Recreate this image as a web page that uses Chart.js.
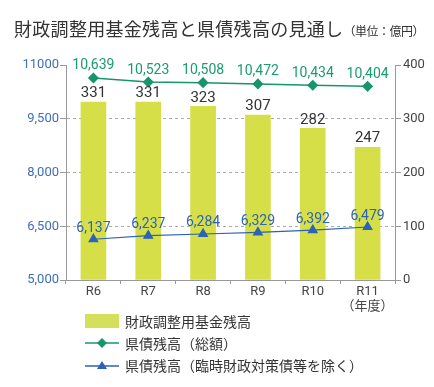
<!DOCTYPE html>
<html lang="ja">
<head>
<meta charset="utf-8">
<script src="https://cdn.jsdelivr.net/npm/chart.js@4"></script>
<style>
  body { margin: 0; background: #fff; }
  #wrap { position: relative; width: 434px; height: 387px; font-family: "Noto Sans CJK JP", sans-serif; color: #333; }
  #graficoSaldo { position: absolute; left: 0; top: 0; }
  .titulo { position: absolute; left: 14px; top: 19px; font-size: 18px; line-height: 1; letter-spacing: 0.3px; white-space: nowrap; }
  .titulo small { font-size: 12px; letter-spacing: -0.5px; }
  .legenda { position: absolute; left: 85px; font-size: 14px; line-height: 1; white-space: nowrap; display: flex; align-items: center; }
  .legenda svg { margin-right: 6px; }
</style>
</head>
<body>
<div id="wrap">
  <canvas id="graficoSaldo" width="434" height="387"></canvas>
  <div class="titulo">財政調整用基金残高と県債残高の見通し<small>（単位：億円）</small></div>
  <div class="legenda" style="top:314px">
    <svg width="34" height="14"><rect x="0" y="0" width="34" height="14" fill="#d4df5c"/></svg>財政調整用基金残高
  </div>
  <div class="legenda" style="top:336px">
    <svg width="34" height="14"><line x1="0" y1="7" x2="34" y2="7" stroke="#17966b" stroke-width="1.5"/><polygon points="17,2 22,7 17,12 12,7" fill="#17966b"/></svg>県債残高（総額）
  </div>
  <div class="legenda" style="top:358px">
    <svg width="34" height="14"><line x1="0" y1="8" x2="34" y2="8" stroke="#2c63b6" stroke-width="1.5"/><polygon points="17,3 22,11 12,11" fill="#2c63b6"/></svg>県債残高（臨時財政対策債等を除く）
  </div>
</div>
<script>
const anos = ['R6', 'R7', 'R8', 'R9', 'R10', ['R11', '（年度）']];
const saldoFundo = [331, 331, 323, 307, 282, 247];          // 財政調整用基金残高 (eixo direito)
const dividaTotal = [10639, 10523, 10508, 10472, 10434, 10404]; // 県債残高（総額）
const dividaSemTemp = [6137, 6237, 6284, 6329, 6392, 6479];  // 県債残高（臨時財政対策債等を除く）

const corVerde = '#17966b';
const corAzul = '#2c63b6';
const fonteNum = 'Roboto, "Noto Sans CJK JP", sans-serif';

// Rótulos com os valores em cima das barras e dos pontos
const rotulosValores = {
    id: 'rotulosValores',
    afterDatasetsDraw(chart) {
        const ctx = chart.ctx;
        chart.data.datasets.forEach((ds, i) => {
            const meta = chart.getDatasetMeta(i);
            ctx.save();
            ctx.textAlign = 'center';
            ctx.textBaseline = 'bottom';
            ctx.fillStyle = ds.corRotulo;
            ctx.font = ds.fonteRotulo;
            meta.data.forEach((el, j) => {
                ctx.fillText(ds.data[j].toLocaleString('en-US'), el.x, el.y - ds.afastRotulo);
            });
            ctx.restore();
        });
    }
};

new Chart(document.getElementById('graficoSaldo'), {
    type: 'bar',
    data: {
        labels: anos,
        datasets: [{
            type: 'line',
            label: '県債残高（総額）',
            data: dividaTotal,
            yAxisID: 'yEsq',
            borderColor: corVerde,
            backgroundColor: corVerde,
            borderWidth: 1.5,
            pointStyle: 'rectRot',
            pointRadius: 4.5,
            order: 1,
            corRotulo: '#1a9c72',
            fonteRotulo: '14px ' + fonteNum,
            afastRotulo: 5
        },
        {
            type: 'line',
            label: '県債残高（臨時財政対策債等を除く）',
            data: dividaSemTemp,
            yAxisID: 'yEsq',
            borderColor: corAzul,
            backgroundColor: corAzul,
            borderWidth: 1.2,
            pointStyle: 'triangle',
            pointRadius: 5,
            order: 2,
            corRotulo: '#2e63b5',
            fonteRotulo: '14px ' + fonteNum,
            afastRotulo: 4
        },
        {
            label: '財政調整用基金残高',
            data: saldoFundo,
            yAxisID: 'yDir',
            backgroundColor: '#d6df48',
            barThickness: 25,
            order: 3,
            corRotulo: '#333',
            fonteRotulo: '15px ' + fonteNum,
            afastRotulo: 1
        }]
    },
    options: {
        responsive: false,
        animation: false,
        layout: { padding: { top: 65, bottom: 72, left: 0, right: 0 } },
        plugins: {
            legend: { display: false },
            tooltip: { enabled: false }
        },
        scales: {
            x: {
                afterFit: s => { s.height = 35; },
                grid: { offset: true, drawOnChartArea: false, tickLength: 4, tickColor: '#999' },
                border: { color: '#999' },
                ticks: {
                    color: '#444', padding: 1, maxRotation: 0, minRotation: 0, autoSkip: false,
                    font: { family: fonteNum, size: 13, lineHeight: 1.1 }
                }
            },
            yEsq: {
                position: 'left',
                min: 5000,
                max: 11000,
                afterFit: s => { s.width = 66; },
                grid: {
                    color: c => (c.tick.value === 5000 || c.tick.value === 11000) ? 'rgba(0,0,0,0)' : '#aaa',
                    tickColor: '#999',
                    tickLength: 6
                },
                border: { color: '#999', dash: [3, 3] },
                ticks: {
                    stepSize: 1500,
                    padding: 1,
                    color: '#3f6fb6',
                    font: { family: fonteNum, size: 13 },
                    callback: v => v === 11000 ? '11000' : v.toLocaleString('en-US')
                }
            },
            yDir: {
                position: 'right',
                min: 0,
                max: 400,
                afterFit: s => { s.width = 39; },
                grid: { drawOnChartArea: false, tickColor: '#999', tickLength: 6 },
                border: { color: '#999' },
                ticks: { stepSize: 100, padding: 2, color: '#444', font: { family: fonteNum, size: 13 } }
            }
        }
    },
    plugins: [rotulosValores]
});
</script>
</body>
</html>
